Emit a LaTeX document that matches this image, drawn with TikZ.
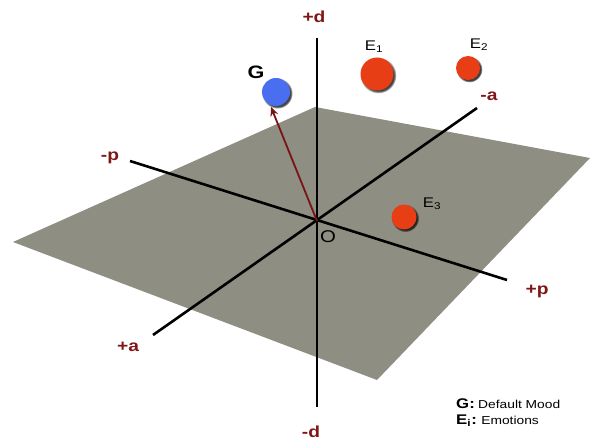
\documentclass[tikz,border=0pt]{standalone}
\usepackage{fontspec}
\setmainfont{Liberation Sans}
\usetikzlibrary{arrows.meta,shadows}
\definecolor{planegray}{RGB}{142,142,130}
\definecolor{labred}{RGB}{128,22,22}
\definecolor{arrred}{RGB}{120,20,20}
\definecolor{ered}{RGB}{232,62,22}
\definecolor{gblue}{RGB}{74,110,240}
\newcommand\hstr[1]{\scalebox{1.2}[1]{#1}}
\begin{document}
\begin{tikzpicture}[x=1pt,y=-1pt,
  axisline/.style={line width=2.6pt, black},
  axlab/.style={text=labred, inner sep=0pt, font=\fontsize{16}{16}\selectfont\bfseries},
  ballnode/.style={circle, inner sep=0pt, draw=none,
     circular drop shadow={shadow xshift=1.2pt, shadow yshift=-1.2pt, opacity=0.75, fill=black}},
  balllab/.style={inner sep=0pt, font=\fontsize{14}{14}\selectfont},
  leglab/.style={anchor=base west, inner sep=0pt}]
\useasboundingbox (0,0) rectangle (596,443);
% plane
\fill[planegray] (13,242) -- (315,107) -- (590,158) -- (377,380) -- cycle;
% axis end points
\coordinate (O) at (317,221);
\coordinate (dtop) at (317,38);
\coordinate (dbot) at (317,407);
\coordinate (pneg) at (130,161);
\coordinate (ppos) at (507,280);
\coordinate (apos) at (153,335);
\coordinate (aneg) at (477,108);
\draw[axisline] (dtop) -- (dbot);
\draw[axisline] (pneg) -- (ppos);
\draw[axisline] (apos) -- (aneg);
% balls
\node[ballnode, minimum size=28pt, fill=gblue] (G) at (276,92) {};
\node[ballnode, minimum size=33pt, fill=ered] (E1) at (377,74) {};
\node[ballnode, minimum size=24pt, fill=ered] (E2) at (468,68) {};
\node[ballnode, minimum size=25pt, fill=ered] (E3) at (404,217) {};
\coordinate (Gtip) at (271,107);
\draw[arrred, line width=1.8pt, -{Stealth[length=9pt,width=8pt]}] (O) -- (Gtip);
% axis labels
\node[axlab] (lpd) at (314,17) {\hstr{+d}};
\node[axlab] (lmd) at (311,432) {\hstr{-d}};
\node[axlab] (lpa) at (128,347) {\hstr{+a}};
\node[axlab] (lma) at (489,96) {\hstr{-a}};
\node[axlab] (lmp) at (110,158) {\hstr{-p}};
\node[axlab] (lpp) at (537,291) {\hstr{+p}};
% ball labels
\node[inner sep=0pt, font=\fontsize{18}{18}\selectfont\bfseries] (lG) at (256,72) {\hstr{G}};
\node[balllab] (lE1) at (374,47) {\hstr{E\textsubscript{1}}};
\node[balllab] (lE2) at (479,45) {\hstr{E\textsubscript{2}}};
\node[balllab] (lE3) at (432,204) {\hstr{E\textsubscript{3}}};
\node[inner sep=0pt, font=\fontsize{17}{17}\selectfont] (lO) at (328,237) {\hstr{O}};
% legend
\node[leglab] (leg1) at (456,408) {\hstr{{\fontsize{14}{14}\selectfont\bfseries G:} {\fontsize{11.5}{11.5}\selectfont Default Mood}}};
\node[leglab] (leg2) at (456,424) {\hstr{{\fontsize{14}{14}\selectfont\bfseries E\textsubscript{i}:} {\fontsize{11.5}{11.5}\selectfont Emotions}}};
\end{tikzpicture}
\end{document}
